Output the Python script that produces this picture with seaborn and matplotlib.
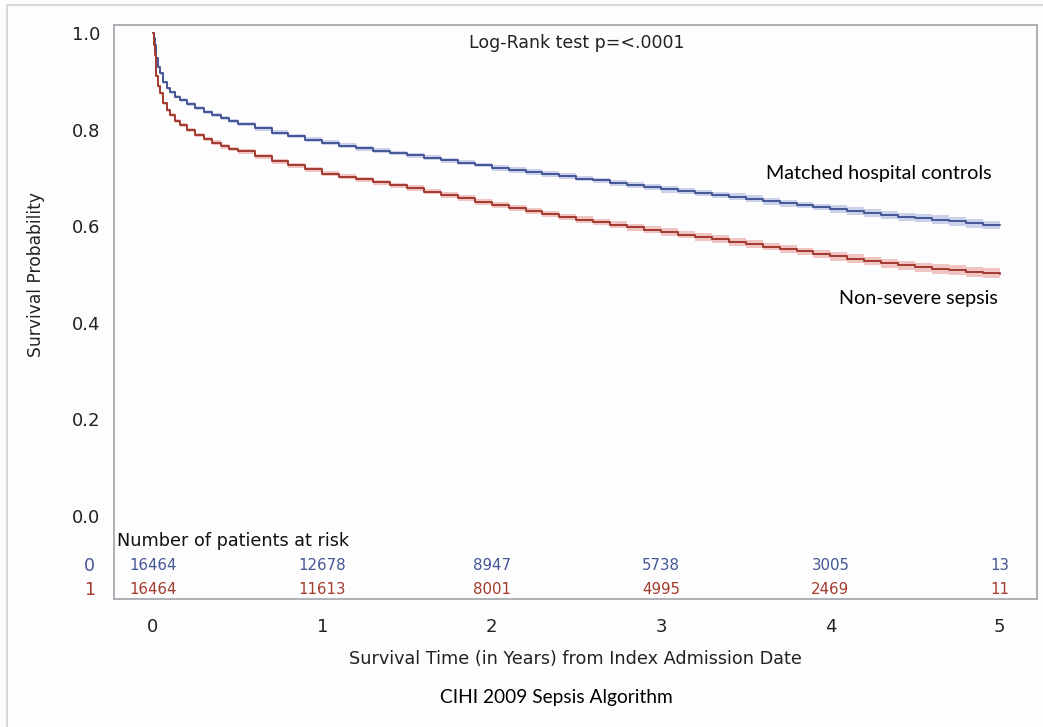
import numpy as np
import pandas as pd
import matplotlib
matplotlib.use('Agg')
import matplotlib.pyplot as plt
import matplotlib.transforms as mtransforms
import seaborn as sns

# Kaplan-Meier estimates (years, survival)
times = [0.0, 0.005, 0.01, 0.02, 0.03, 0.04, 0.06, 0.08, 0.10, 0.13, 0.16, 0.20, 0.25,
         0.30, 0.35, 0.40, 0.45,
         0.5, 0.6, 0.7, 0.8, 0.9, 1.0, 1.1, 1.2, 1.3, 1.4, 1.5, 1.6, 1.7, 1.8, 1.9,
         2.0, 2.1, 2.2, 2.3, 2.4, 2.5, 2.6, 2.7, 2.8, 2.9, 3.0, 3.1, 3.2, 3.3, 3.4,
         3.5, 3.6, 3.7, 3.8, 3.9, 4.0, 4.1, 4.2, 4.3, 4.4, 4.5, 4.6, 4.7, 4.8, 4.9, 5.0]
surv_controls = [1.000, 0.990, 0.975, 0.948, 0.930, 0.917, 0.898, 0.886, 0.878, 0.868, 0.861,
                 0.853, 0.845, 0.837, 0.831, 0.825, 0.818,
                 0.812, 0.803, 0.794, 0.787, 0.779, 0.773, 0.767, 0.762, 0.757, 0.752,
                 0.747, 0.742, 0.737, 0.732, 0.727, 0.721, 0.717, 0.712, 0.708, 0.704,
                 0.699, 0.695, 0.690, 0.686, 0.681, 0.677, 0.673, 0.669, 0.665, 0.661,
                 0.657, 0.652, 0.648, 0.644, 0.640, 0.636, 0.632, 0.628, 0.624, 0.620,
                 0.617, 0.614, 0.610, 0.606, 0.603, 0.602]
surv_sepsis = [1.000, 0.975, 0.955, 0.912, 0.890, 0.876, 0.855, 0.840, 0.831, 0.819, 0.810,
               0.800, 0.789, 0.780, 0.773, 0.766, 0.760,
               0.755, 0.745, 0.735, 0.726, 0.718, 0.709, 0.703, 0.697, 0.691, 0.685,
               0.679, 0.672, 0.665, 0.658, 0.651, 0.644, 0.638, 0.632, 0.626, 0.620,
               0.614, 0.609, 0.603, 0.598, 0.593, 0.588, 0.583, 0.578, 0.573, 0.568,
               0.563, 0.558, 0.553, 0.548, 0.543, 0.538, 0.533, 0.528, 0.523, 0.519,
               0.515, 0.512, 0.509, 0.506, 0.503, 0.501]
# half-width of the pointwise confidence band
ci_controls = ([0.000, 0.001, 0.002, 0.002, 0.003, 0.003, 0.003, 0.003, 0.003, 0.003, 0.004,
                0.004, 0.004, 0.004, 0.004, 0.004, 0.004]
               + [0.005] * 5 + [0.005] * 10 + [0.006] * 10 + [0.007] * 10
               + [0.008] * 5 + [0.009] * 5 + [0.010])
ci_sepsis = ([0.000, 0.001, 0.002, 0.003, 0.003, 0.003, 0.003, 0.004, 0.004, 0.004, 0.004,
              0.004, 0.004, 0.004, 0.005, 0.005, 0.005]
             + [0.005] * 10 + [0.006] * 10 + [0.007] * 5 + [0.008] * 10
             + [0.009] * 5 + [0.010] * 5 + [0.011])

# number at risk table
risk_times = [0, 1, 2, 3, 4, 5]
risk_controls = [16464, 12678, 8947, 5738, 3005, 13]
risk_sepsis = [16464, 11613, 8001, 4995, 2469, 11]

blue = '#445694'
red = '#A23A2E'
blue_band = '#cbd1ea'
red_band = '#f1c4c4'
grey = '#a6abb0'

df = pd.DataFrame({
    'time': times * 2,
    'surv': surv_controls + surv_sepsis,
    'ci': ci_controls + ci_sepsis,
    'group': ['0'] * len(times) + ['1'] * len(times),
})

sns.set_style('white')
plt.rcParams['font.family'] = ['DejaVu Sans']

fig = plt.figure(figsize=(10.43, 7.27), dpi=100, facecolor='#fdfdfd')
ax = fig.add_axes([114 / 1043, 1 - 599 / 727, (1037 - 114) / 1043, (599 - 25) / 727])
ax.set_facecolor('#fdfdfd')

# confidence bands
for g, col in [('0', blue_band), ('1', red_band)]:
    sub = df[df['group'] == g]
    ax.fill_between(sub['time'], sub['surv'] - sub['ci'], sub['surv'] + sub['ci'],
                    step='post', color=col, linewidth=0)

sns.lineplot(data=df, x='time', y='surv', hue='group', palette={'0': blue, '1': red},
             drawstyle='steps-post', linewidth=1.4, legend=False, ax=ax, estimator=None)

ax.set_xlim(-0.23, 5.22)
ax.set_ylim(-0.172, 1.017)
ax.set_xticks(risk_times)
ax.set_yticks([0.0, 0.2, 0.4, 0.6, 0.8, 1.0])
ax.set_yticklabels(['0.0', '0.2', '0.4', '0.6', '0.8', '1.0'])
ax.tick_params(axis='both', direction='out', length=6, width=1, color=grey,
               labelsize=13, labelcolor='#222222', pad=4)
ax.tick_params(axis='x', pad=8)
for s in ax.spines.values():
    s.set_color(grey)
    s.set_linewidth(1.3)

ax.set_xlabel('Survival Time (in Years) from Index Admission Date', fontsize=12.7,
              color='#222222', labelpad=10)
ax.set_ylabel('')
trans = mtransforms.blended_transform_factory(ax.transAxes, ax.transData)
ax.text(-0.084, 0.5, 'Survival Probability', transform=trans, rotation=90,
        ha='center', va='center', fontsize=12.3, color='#222222')

# annotations
ax.text(2.5, 0.98, 'Log-Rank test p=<.0001', ha='center', va='center', fontsize=12.5,
        color='#222222')
ax.text(4.95, 0.71, 'Matched hospital controls', ha='right', va='center', fontsize=14.2,
        family=['Lato', 'DejaVu Sans'], color='black')
ax.text(4.99, 0.451, 'Non-severe sepsis', ha='right', va='center', fontsize=14.2,
        family=['Lato', 'DejaVu Sans'], color='black')

# risk table
ax.text(-0.215, -0.052, 'Number of patients at risk', ha='left', va='center',
        fontsize=12.7, color='#111111')
for t, n0, n1 in zip(risk_times, risk_controls, risk_sepsis):
    ax.text(t, -0.1035, str(n0), ha='center', va='center', fontsize=10.8, color=blue)
    ax.text(t, -0.153, str(n1), ha='center', va='center', fontsize=10.8, color=red)
ax.text(-0.373, -0.1035, '0', ha='center', va='center', fontsize=12.5, color=blue, clip_on=False)
ax.text(-0.373, -0.153, '1', ha='center', va='center', fontsize=12.5, color=red, clip_on=False)

# caption and outer frame
fig.text(556 / 1043, 1 - 697 / 727, 'CIHI 2009 Sepsis Algorithm', ha='center', va='center',
         fontsize=13.8, family=['Lato', 'DejaVu Sans'], color='black')
fig.add_artist(plt.Line2D([7 / 1043, 1], [1 - 5 / 727, 1 - 5 / 727], color='#d8d8d8', lw=1.5))
fig.add_artist(plt.Line2D([7 / 1043, 7 / 1043], [0, 1 - 5 / 727], color='#d8d8d8', lw=1.5))

fig.savefig('out.png', dpi=100, facecolor=fig.get_facecolor())
